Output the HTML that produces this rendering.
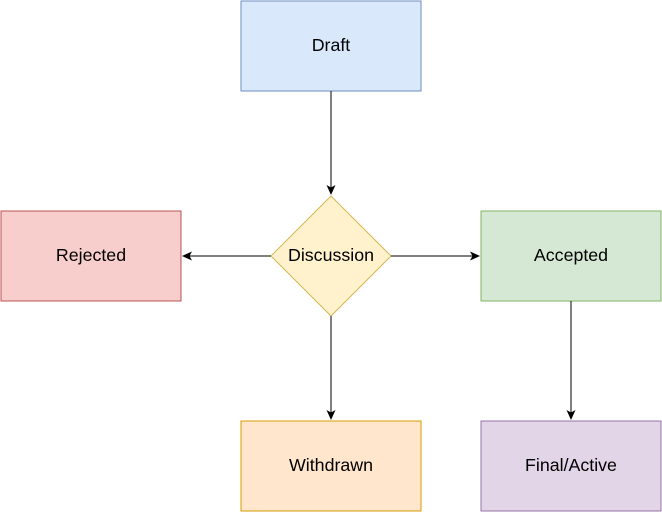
<!DOCTYPE html>
<html><head><meta charset="utf-8"><style>body{margin:0;background:#fff}svg{display:block}</style></head>
<body>
<svg width="662" height="512" viewBox="0 0 662 512" xmlns="http://www.w3.org/2000/svg" font-family="Liberation Sans, Arial, sans-serif" font-size="17.8">
<g stroke-width="1">
<rect x="241" y="1" width="180" height="90" fill="#dae8fc" stroke="#6c8ebf"/>
<rect x="1" y="211" width="180" height="90" fill="#f8cecc" stroke="#b85450"/>
<path d="M331 196 L391 256 L331 316 L271 256 Z" fill="#fff2cc" stroke="#d6b656"/>
<rect x="481" y="211" width="180" height="90" fill="#d5e8d4" stroke="#82b366"/>
<rect x="241" y="421" width="180" height="90" fill="#ffe6cc" stroke="#d79b00"/>
<rect x="481" y="421" width="180" height="90" fill="#e1d5e7" stroke="#9673a6"/>
</g>
<g stroke="#000" fill="none">
<path d="M331 91 V188"/>
<path d="M271 256 H189"/>
<path d="M391 256 H473"/>
<path d="M331 316 V413"/>
<path d="M571 301 V413"/>
</g>
<g fill="#000">
<path d="M331 195 L326.5 185 L331 187.5 L335.5 185 Z"/>
<path d="M182 256 L192 251.5 L189.5 256 L192 260.5 Z"/>
<path d="M480 256 L470 251.5 L472.5 256 L470 260.5 Z"/>
<path d="M331 420 L326.5 410 L331 412.5 L335.5 410 Z"/>
<path d="M571 420 L566.5 410 L571 412.5 L575.5 410 Z"/>
</g>
<g text-anchor="middle" fill="#000">
<text x="331" y="51">Draft</text>
<text x="91" y="261">Rejected</text>
<text x="331" y="261">Discussion</text>
<text x="571" y="261">Accepted</text>
<text x="331" y="471">Withdrawn</text>
<text x="571" y="471">Final/Active</text>
</g>
</svg>
</body></html>
